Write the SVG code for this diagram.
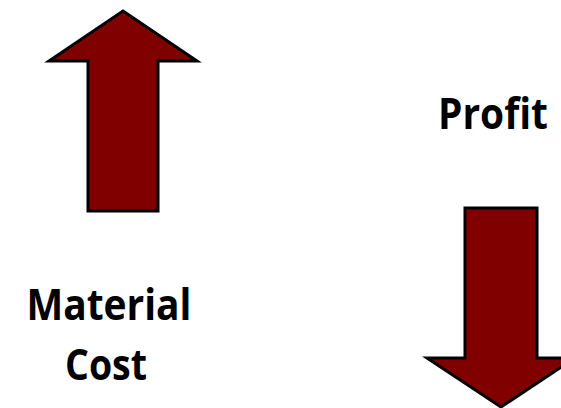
<svg xmlns="http://www.w3.org/2000/svg" width="561" height="408" viewBox="0 0 561 408">
  <style>
    .arrow { fill: #800000; stroke: #000000; stroke-width: 3; stroke-linejoin: miter; }
    .label { font-family: "Open Sans", "Noto Sans", "Liberation Sans", sans-serif; font-weight: 700; font-size: 43px; fill: #000000; text-anchor: middle; }
  </style>
  <rect width="561" height="408" fill="#ffffff"/>

  <!-- rising cost arrow -->
  <g id="cost-arrow">
    <polygon class="arrow" points="123,11 197,61 158,61 158,211 88,211 88,61 49,61"/>
  </g>

  <!-- falling profit arrow -->
  <g id="profit-arrow">
    <polygon class="arrow" points="465,208 537,208 537,358 575,358 501,407 427,358 465,358"/>
  </g>

  <g id="material-cost-label">
    <text class="label" x="109" y="320" textLength="165" lengthAdjust="spacingAndGlyphs">Material</text>
    <text class="label" x="106" y="380" textLength="82" lengthAdjust="spacingAndGlyphs">Cost</text>
  </g>

  <g id="profit-label">
    <text class="label" x="493" y="129" textLength="110" lengthAdjust="spacingAndGlyphs">Profit</text>
  </g>

  <g id="connectors"/>
</svg>
